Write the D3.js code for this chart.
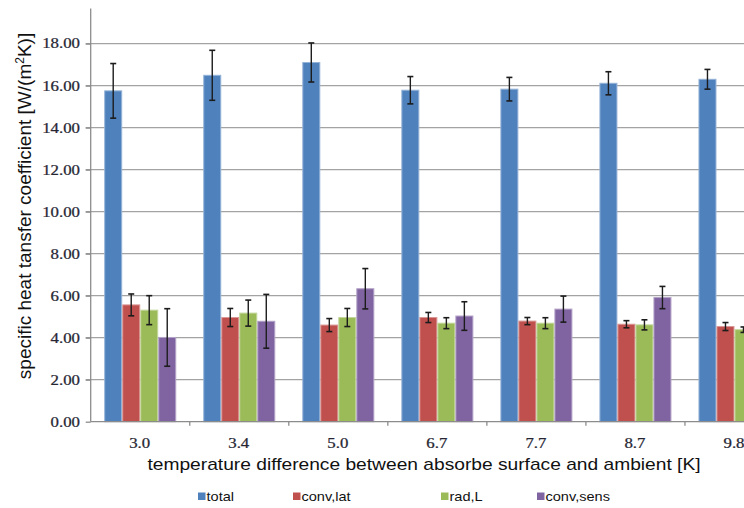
<!DOCTYPE html>
<html>
<head>
<meta charset="utf-8">
<script src="https://cdn.jsdelivr.net/npm/d3@7"></script>
<style>
  html, body { margin: 0; padding: 0; background: #fff; overflow: hidden; }
  svg { display: block; }
</style>
</head>
<body>
<div id="chart"></div>
<script>
// Temperature differences (categories on the x axis)
const categories = ["3.0", "3.4", "5.0", "6.7", "7.7", "8.7", "9.8"];

// Series names shown in the legend
const seriesNames = ["total", "conv,lat", "rad,L", "conv,sens"];

// Heat transfer coefficients [W/(m²K)] and their error ranges (±)
const total       = [15.75, 16.49, 17.10, 15.78, 15.83, 16.11, 16.30];
const totalErr    = [1.30, 1.19, 0.93, 0.65, 0.56, 0.55, 0.47];
const convLat     = [5.56, 4.96, 4.60, 4.96, 4.79, 4.64, 4.53];
const convLatErr  = [0.52, 0.43, 0.31, 0.24, 0.17, 0.17, 0.19];
const radL        = [5.31, 5.17, 4.96, 4.69, 4.69, 4.61, 4.38];
const radLErr     = [0.69, 0.62, 0.43, 0.26, 0.26, 0.24, 0.13];
const convSens    = [4.01, 4.78, 6.33, 5.03, 5.36, 5.91, null];
const convSensErr = [1.37, 1.28, 0.96, 0.68, 0.62, 0.53, null];

// Y axis tick values
const yTicks = [0, 2, 4, 6, 8, 10, 12, 14, 16, 18];

const seriesValues = [total, convLat, radL, convSens];
const seriesErrors = [totalErr, convLatErr, radLErr, convSensErr];
const colors = ["#4F81BD", "#C0504D", "#9BBB59", "#8064A2"];

const W = 744, H = 508;
const plot = { left: 90.7, top: 8.5, bottom: 421.7, right: 784 };
const stretch = 1.2;   // horizontal text stretch used throughout the chart

const svg = d3.select("#chart").append("svg")
  .attr("width", W).attr("height", H);

const x0 = d3.scaleBand().domain(categories).range([plot.left, plot.right]).paddingInner(0).paddingOuter(0);
const x1 = d3.scaleBand().domain(seriesNames).range([0, x0.bandwidth()]).paddingInner(0).paddingOuter(0.75);
const y = d3.scaleLinear().domain([0, 19.67]).range([plot.bottom, plot.top]);

// Horizontal gridlines
svg.append("g").selectAll("line").data(yTicks.filter(d => d > 0)).join("line")
  .attr("x1", plot.left - 5).attr("x2", plot.right)
  .attr("y1", d => y(d)).attr("y2", d => y(d))
  .attr("stroke", "#a3a3a3").attr("stroke-width", 1.3);

// Y axis line and tick marks
const yAxis = svg.append("g").attr("transform", `translate(${plot.left},0)`)
  .call(d3.axisLeft(y).tickValues(yTicks).tickSize(5).tickFormat(""));
yAxis.select(".domain").attr("d", `M0,${plot.top}V${plot.bottom}`).attr("stroke", "#8c8c8c").attr("stroke-width", 1.3);
yAxis.selectAll(".tick line").attr("stroke", "#8c8c8c").attr("stroke-width", 1.3);

// Y tick labels
svg.append("g").selectAll("text").data(yTicks).join("text")
  .attr("transform", d => `translate(80,${y(d)}) scale(${stretch},1)`)
  .attr("text-anchor", "end").attr("dy", "0.35em")
  .attr("font-family", "'Liberation Serif', 'Times New Roman', serif")
  .attr("font-size", 14).attr("fill", "#262633")
  .attr("stroke", "#262633").attr("stroke-width", 0.25)
  .text(d => d3.format(".2f")(d));

// Bars
const groups = svg.append("g").selectAll("g").data(categories).join("g")
  .attr("transform", d => `translate(${x0(d)},0)`);

const barData = (c, i) => seriesNames.map((s, k) => ({
  s, k, v: seriesValues[k][i], e: seriesErrors[k][i]
})).filter(d => d.v != null);

groups.selectAll("rect").data((c, i) => barData(c, i)).join("rect")
  .attr("x", d => x1(d.s) + 0.5)
  .attr("width", x1.bandwidth() - 1)
  .attr("y", d => y(d.v))
  .attr("height", d => y(0) - y(d.v))
  .attr("fill", d => colors[d.k])
  .attr("stroke", d => d3.interpolateRgb(colors[d.k], "#ffffff")(0.4))
  .attr("stroke-width", 1);

// Error bars
const eb = groups.selectAll("g.err").data((c, i) => barData(c, i)).join("g").attr("class", "err");
const cx = d => x1(d.s) + x1.bandwidth() / 2;
eb.append("line")
  .attr("x1", cx).attr("x2", cx)
  .attr("y1", d => y(d.v + d.e)).attr("y2", d => y(d.v - d.e))
  .attr("stroke", "#1c1c1c").attr("stroke-width", 1.4);
eb.selectAll("line.cap").data(d => [d.v + d.e, d.v - d.e].map(t => ({ d, t }))).join("line")
  .attr("class", "cap")
  .attr("x1", o => cx(o.d) - 3).attr("x2", o => cx(o.d) + 3)
  .attr("y1", o => y(o.t)).attr("y2", o => y(o.t))
  .attr("stroke", "#1c1c1c").attr("stroke-width", 1.6);

// X axis line with tick marks between categories
const xAxis = svg.append("g").attr("transform", `translate(0,${plot.bottom})`);
xAxis.append("line").attr("x1", plot.left).attr("x2", plot.right)
  .attr("stroke", "#8c8c8c").attr("stroke-width", 1.3);
xAxis.selectAll("line.tick").data(categories).join("line").attr("class", "tick")
  .attr("x1", d => x0(d) + x0.bandwidth()).attr("x2", d => x0(d) + x0.bandwidth())
  .attr("y1", 0).attr("y2", 4)
  .attr("stroke", "#8c8c8c").attr("stroke-width", 1.3);

// Category labels
svg.append("g").selectAll("text").data(categories).join("text")
  .attr("transform", d => `translate(${x0(d) + x0.bandwidth() / 2 - 0.5},448) scale(${stretch},1)`)
  .attr("text-anchor", "middle")
  .attr("font-family", "'Liberation Serif', 'Times New Roman', serif")
  .attr("font-size", 14).attr("fill", "#262633")
  .attr("stroke", "#262633").attr("stroke-width", 0.25)
  .text(d => d);

// Axis titles
svg.append("text")
  .attr("transform", `translate(424,470) scale(${stretch},1)`)
  .attr("text-anchor", "middle")
  .attr("font-family", "'Liberation Sans', Arial, sans-serif")
  .attr("font-size", 16).attr("fill", "#111")
  .text("temperature difference between absorbe surface and ambient [K]");

const yTitle = svg.append("text")
  .attr("transform", "translate(31,206) rotate(-90)")
  .attr("text-anchor", "middle")
  .attr("font-family", "'Liberation Sans', Arial, sans-serif")
  .attr("font-size", 19).attr("fill", "#111");
yTitle.append("tspan").text("specific heat tansfer coefficient [W/(m");
yTitle.append("tspan").attr("dy", -7).attr("font-size", 12).text("2");
yTitle.append("tspan").attr("dy", 7).text("K)]");

// Legend
const legendX = [198, 293, 441, 537];
const legend = svg.append("g").selectAll("g").data(seriesNames).join("g")
  .attr("transform", (d, i) => `translate(${legendX[i]},492.5)`);
legend.append("rect").attr("width", 7.5).attr("height", 7.5)
  .attr("fill", (d, i) => colors[i]);
legend.append("text")
  .attr("transform", `translate(8.5,8.5) scale(1.12,1)`)
  .attr("font-family", "'Liberation Sans', Arial, sans-serif")
  .attr("font-size", 13).attr("fill", "#111")
  .text(d => d);
</script>
</body>
</html>
